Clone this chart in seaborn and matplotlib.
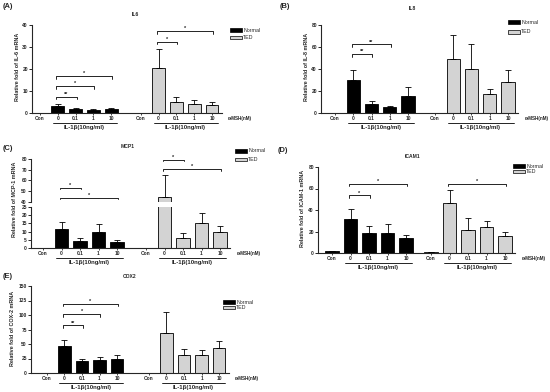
import numpy as np
import pandas as pd
import matplotlib
matplotlib.use("Agg")
import matplotlib.pyplot as plt
import seaborn as sns
from matplotlib.patches import Patch
from matplotlib.transforms import blended_transform_factory, ScaledTranslation

# ---------------- data ----------------
doses = ["Con", "0", "0.1", "1", "10"]
groups = ["Normal", "TED"]
stimulus_label = "IL-1β(10ng/ml)"
dose_label = "α-MSH(nM)"

il6_normal = [0, 3.2, 2.0, 1.4, 2.0]
il6_normal_err = [0, 0.9, 0.4, 0.3, 0.4]
il6_ted = [0, 20.3, 5.2, 4.1, 3.6]
il6_ted_err = [0, 8.6, 2.2, 1.8, 1.6]

il8_normal = [0, 30.4, 8.5, 5.2, 15.2]
il8_normal_err = [0, 8.5, 2.5, 1.5, 8.5]
il8_ted = [0, 49.2, 40.4, 17.0, 28.0]
il8_ted_err = [0, 21.9, 22.5, 5.2, 10.9]

mcp1_normal = [0, 11.4, 4.3, 9.8, 3.7]
mcp1_normal_err = [0, 4.5, 1.8, 5.0, 1.4]
mcp1_ted = [0, 44.7, 6.1, 15.4, 9.8]
mcp1_ted_err = [0, 20.0, 3.0, 5.9, 3.4]

icam1_normal = [1.5, 32.0, 18.2, 18.8, 13.5]
icam1_normal_err = [0.7, 8.6, 7.3, 8.6, 2.8]
icam1_ted = [0.9, 46.5, 21.2, 24.0, 15.7]
icam1_ted_err = [0.3, 11.7, 11.1, 5.5, 4.3]

cox2_normal = [0, 46.6, 20.1, 21.8, 24.7]
cox2_normal_err = [0, 10.9, 4.6, 5.2, 5.8]
cox2_ted = [0, 68.4, 31.6, 30.5, 43.7]
cox2_ted_err = [0, 36.6, 9.2, 9.2, 11.5]

# significance: (group, dose index 1, dose index 2, height, label)
il6_sig = [("Normal", 1, 2, 7.4, "**"), ("Normal", 1, 3, 12.3, "*"), ("Normal", 1, 4, 16.8, "*"),
           ("TED", 1, 2, 32.4, "*"), ("TED", 1, 4, 37.3, "*")]
il8_sig = [("Normal", 1, 2, 53.5, "**"), ("Normal", 1, 3, 62.3, "**")]
mcp1_sig = [("Normal", 1, 2, 53.0, "*"), ("Normal", 1, 4, 44.0, "*"),
            ("TED", 1, 2, 79.5, "*"), ("TED", 1, 4, 70.5, "*")]
icam1_sig = [("Normal", 1, 2, 53.5, "*"), ("Normal", 1, 4, 64.6, "*"), ("TED", 1, 4, 64.3, "*")]
cox2_sig = [("Normal", 1, 2, 82.0, "**"), ("Normal", 1, 3, 101.0, "*"), ("Normal", 1, 4, 119.5, "*")]

# ---------------- style ----------------
sns.set_theme(style="ticks")
plt.rcParams["font.family"] = ["Liberation Sans", "DejaVu Sans"]
palette = {"Normal": "#000000", "TED": "#d3d3d3"}
LW = 0.6

W, H = 550, 392
fig = plt.figure(figsize=(W / 100, H / 100), dpi=100)


def px_axes(left, top, right, bottom):
    return fig.add_axes([left / W, 1 - bottom / H, (right - left) / W, (bottom - top) / H])


def below(ax, dy_px):
    return blended_transform_factory(ax.transData, ax.transAxes) + \
        ScaledTranslation(0, -dy_px / 100, fig.dpi_scale_trans)


def positions(gap):
    return np.arange(5), np.arange(5) + 4 + gap


def draw_bars(ax, normal, normal_err, ted, ted_err, gap):
    pn, pt = positions(gap)
    pos = np.concatenate([pn, pt])
    vals = np.concatenate([normal, ted]).astype(float)
    err = np.concatenate([normal_err, ted_err]).astype(float)
    df = pd.DataFrame({"pos": pos, "value": vals,
                       "group": [groups[0]] * 5 + [groups[1]] * 5})
    sns.barplot(data=df, x="pos", y="value", hue="group", hue_order=groups,
                palette=palette, native_scale=True, dodge=False, width=0.72,
                edgecolor="black", linewidth=LW, errorbar=None, legend=False, ax=ax)
    m = err > 0
    ax.errorbar(pos[m], vals[m], yerr=[np.zeros(m.sum()), err[m]], fmt="none",
                ecolor="black", elinewidth=LW, capsize=2.2, capthick=LW, zorder=4)
    ax.set_xlabel("")
    ax.set_ylabel("")


def style_axes(ax, gap, lm, rm, ylim, yticks, show_x=True):
    pn, pt = positions(gap)
    ax.set_xlim(-lm, 8 + gap + rm)
    ax.set_ylim(*ylim)
    ax.set_yticks(yticks)
    ax.set_yticklabels([str(t) for t in yticks])
    for s in ["top", "right"]:
        ax.spines[s].set_visible(False)
    for s in ["left", "bottom"]:
        ax.spines[s].set_linewidth(0.8)
    ax.tick_params(axis="y", length=2, width=0.7, pad=1, labelsize=3.5)
    for lab in ax.get_yticklabels():
        lab.set_fontweight("bold")
    if show_x:
        ax.set_xticks(np.concatenate([pn, pt]))
        ax.set_xticklabels(doses * 2)
        ax.tick_params(axis="x", length=1.5, width=0.6, pad=1, labelsize=3.5)
        for lab in ax.get_xticklabels():
            lab.set_fontweight("bold")
        for p in (pn, pt):
            ax.plot([p[1] - 0.28, p[4] + 0.32], [0, 0], transform=below(ax, 10),
                    color="black", lw=LW, clip_on=False)
            ax.text((p[1] + p[4]) / 2, 0, stimulus_label, transform=below(ax, 14.5),
                    ha="center", va="center", fontsize=4.3, fontweight="bold")
        ax.text(pt[4] + 0.9, 0, dose_label, transform=below(ax, 5.6),
                ha="left", va="center", fontsize=3.35, fontweight="bold")
    else:
        ax.spines["bottom"].set_visible(False)
        ax.set_xticks([])


def add_sig(ax, sig, gap, drop):
    pn, pt = positions(gap)
    for grp, i1, i2, h, lab in sig:
        p = pn if grp == "Normal" else pt
        x1, x2 = p[i1] - 0.08, p[i2] + 0.05
        ax.plot([x1, x1, x2, x2], [h - drop, h, h, h - drop], color="black",
                lw=LW, clip_on=False, zorder=5)
        ax.text((x1 + x2) / 2, h, lab, ha="center", va="bottom", fontsize=4,
                fontweight="bold", clip_on=False)


def add_legend(ax, x_px, top_px, spacing):
    handles = [Patch(facecolor=palette[g], edgecolor="black", linewidth=0.5) for g in groups]
    ax.legend(handles, groups, loc="upper left",
              bbox_to_anchor=(x_px / W, 1 - top_px / H), bbox_transform=fig.transFigure,
              frameon=False, fontsize=3.8, handlelength=2.2, handleheight=0.75,
              handletextpad=0.3, labelspacing=spacing, borderpad=0, borderaxespad=0)


def fig_text(x, y, s, **kw):
    fig.text(x / W, 1 - y / H, s, **kw)


def ylabel(x, y, s):
    fig_text(x, y, s, rotation=90, ha="center", va="center", fontsize=3.9, fontweight="bold")


def title(x, y, s):
    fig_text(x, y, s, ha="center", va="center", fontsize=3.6, fontweight="bold")


def panel(x, y, s):
    fig_text(x, y, s, ha="left", va="center", fontsize=5.4, fontweight="bold")


# ---------------- (A) IL6 ----------------
gA = 1.65
axA = px_axes(32, 25, 222, 113)
draw_bars(axA, il6_normal, il6_normal_err, il6_ted, il6_ted_err, gA)
style_axes(axA, gA, 0.45, 0.56, (0, 40), [0, 10, 20, 30, 40])
add_sig(axA, il6_sig, gA, 1.2)
add_legend(axA, 230, 28, 0.45)
ylabel(18, 67, "Relative fold of IL-6 mRNA")
title(135, 15, "IL6")
panel(3, 6.5, "(A)")

# ---------------- (B) IL8 ----------------
gB = 1.48
axB = px_axes(321, 25, 518, 113)
draw_bars(axB, il8_normal, il8_normal_err, il8_ted, il8_ted_err, gB)
style_axes(axB, gB, 0.77, 0.55, (0, 80), [0, 20, 40, 60, 80])
add_sig(axB, il8_sig, gB, 2.4)
add_legend(axB, 508, 19.5, 0.93)
ylabel(306, 67, "Relative fold of IL-8 mRNA")
title(412, 9, "IL8")
panel(280, 6, "(B)")

# ---------------- (C) MCP1 (broken axis) ----------------
gC = 1.57
axC_lo = px_axes(31, 207, 230, 248)
axC_hi = px_axes(31, 159, 230, 202)
for ax in (axC_lo, axC_hi):
    draw_bars(ax, mcp1_normal, mcp1_normal_err, mcp1_ted, mcp1_ted_err, gC)
style_axes(axC_lo, gC, 0.65, 0.54, (0, 25), [0, 5, 10, 15, 20, 25])
style_axes(axC_hi, gC, 0.65, 0.54, (40, 80), [40, 50, 60, 70, 80], show_x=False)
add_sig(axC_hi, mcp1_sig, gC, 1.3)
add_legend(axC_hi, 235, 148.5, 0.74)
ylabel(15, 199, "Relative fold of MCP-1 mRNA")
title(128, 146, "MCP1")
panel(3, 148.5, "(C)")

# ---------------- (D) ICAM1 ----------------
gD = 1.35
axD = px_axes(318, 167, 515, 253)
draw_bars(axD, icam1_normal, icam1_normal_err, icam1_ted, icam1_ted_err, gD)
style_axes(axD, gD, 0.76, 0.54, (0, 80), [0, 20, 40, 60, 80])
add_sig(axD, icam1_sig, gD, 2.4)
add_legend(axD, 513, 163.5, 0.17)
ylabel(303, 208, "Relative fold of ICAM-1 mRNA")
title(412, 157, "ICAM1")
panel(278, 150, "(D)")

# ---------------- (E) COX2 ----------------
gE = 1.81
axE = px_axes(31, 286, 229, 373)
draw_bars(axE, cox2_normal, cox2_normal_err, cox2_ted, cox2_ted_err, gE)
style_axes(axE, gE, 0.9, 0.56, (0, 150), [0, 25, 50, 75, 100, 125, 150])
add_sig(axE, cox2_sig, gE, 4.5)
add_legend(axE, 223, 299.7, 0.11)
ylabel(13, 328, "Relative fold of COX-2 mRNA")
title(130, 276, "COX2")
panel(3, 276, "(E)")

fig.savefig("out.png", dpi=100, facecolor="white")
